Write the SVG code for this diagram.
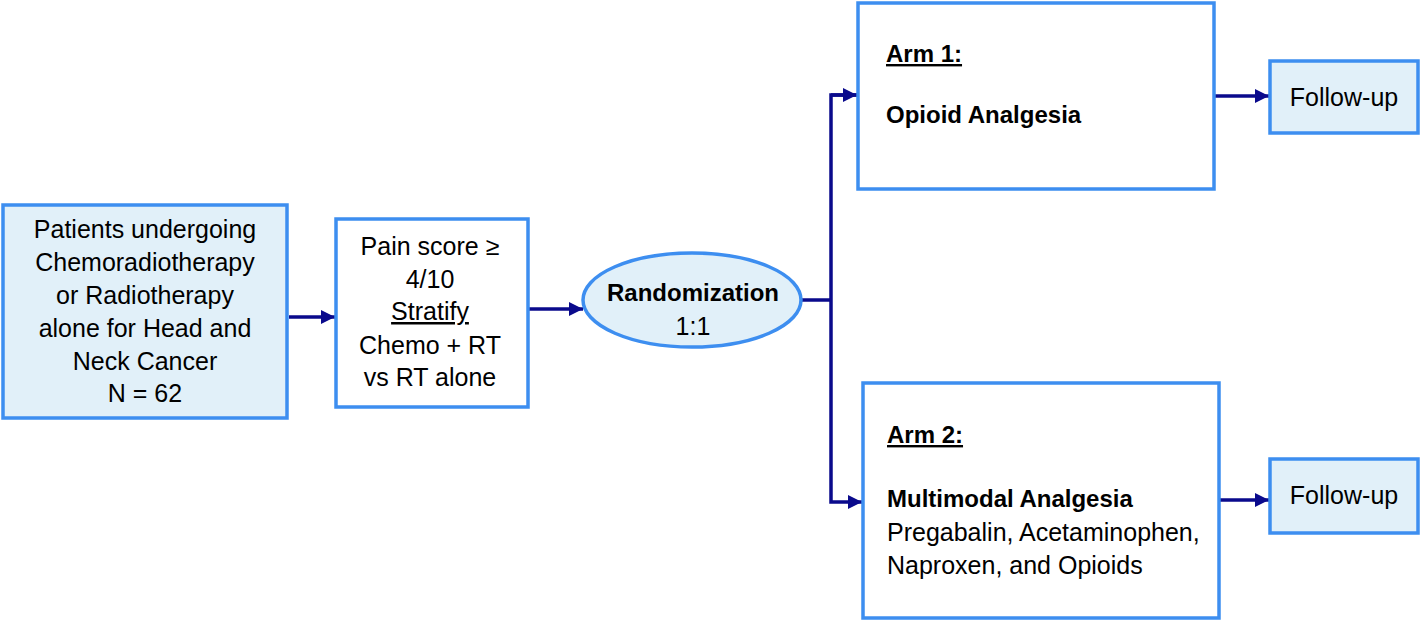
<svg xmlns="http://www.w3.org/2000/svg" width="1421" height="621" viewBox="0 0 1421 621">
<style>
.box{stroke:#3d8ef0;stroke-width:3.5}
.fill{fill:#e1f0f9}
.wht{fill:#ffffff}
text{font-family:"Liberation Sans",Arial,sans-serif;font-size:25px;fill:#000}
.c{text-anchor:middle}
.b{font-weight:bold;font-size:24px}
.u{text-decoration:underline}
.conn{fill:none;stroke:#0a0a8c;stroke-width:3.5}
</style>
<defs>
<marker id="ah" viewBox="0 0 10 10" refX="10" refY="5" markerWidth="4" markerHeight="4" markerUnits="strokeWidth" orient="auto">
<path d="M0,0 L10,5 L0,10 z" fill="#0a0a8c"/>
</marker>
</defs>
<rect width="1421" height="621" fill="#ffffff"/>
<g id="connectors">
<line class="conn" x1="289" y1="317" x2="335" y2="317" marker-end="url(#ah)"/>
<line class="conn" x1="528" y1="309" x2="583" y2="309" marker-end="url(#ah)"/>
<polyline class="conn" points="801,300 831,300"/>
<polyline class="conn" points="857,95 831,95 831,502 862,502" marker-end="url(#ah)"/>
<line class="conn" x1="831" y1="95" x2="857" y2="95" marker-end="url(#ah)"/>
<line class="conn" x1="1214" y1="96" x2="1269" y2="96" marker-end="url(#ah)"/>
<line class="conn" x1="1219" y1="500" x2="1269" y2="500" marker-end="url(#ah)"/>
</g>
<g id="patients">
<rect class="box fill" x="3" y="205" width="284" height="213"/>
<text class="c" x="145" y="238">Patients undergoing</text>
<text class="c" x="145" y="271">Chemoradiotherapy</text>
<text class="c" x="145" y="304">or Radiotherapy</text>
<text class="c" x="145" y="337">alone for Head and</text>
<text class="c" x="145" y="370">Neck Cancer</text>
<text class="c" x="145" y="402">N = 62</text>
</g>
<g id="stratify">
<rect class="box wht" x="336" y="219" width="192" height="188"/>
<text class="c" x="430" y="255">Pain score ≥</text>
<text class="c" x="430" y="288">4/10</text>
<text class="c u" x="430" y="320">Stratify</text>
<text class="c" x="430" y="354">Chemo + RT</text>
<text class="c" x="430" y="386">vs RT alone</text>
</g>
<g id="randomization">
<ellipse class="box fill" cx="692" cy="300" rx="109" ry="47"/>
<text class="c b" x="693" y="301">Randomization</text>
<text class="c" x="693" y="335">1:1</text>
</g>
<g id="arm1">
<rect class="box wht" x="858" y="3" width="356" height="186"/>
<text class="b u" x="886" y="62">Arm 1:</text>
<text class="b" x="886" y="123">Opioid Analgesia</text>
</g>
<g id="arm2">
<rect class="box wht" x="863" y="383" width="356" height="235"/>
<text class="b u" x="887" y="443">Arm 2:</text>
<text class="b" x="887" y="507">Multimodal Analgesia</text>
<text x="887" y="541">Pregabalin, Acetaminophen,</text>
<text x="887" y="574">Naproxen, and Opioids</text>
</g>
<g id="followup1">
<rect class="box fill" x="1270" y="61" width="148" height="72"/>
<text class="c" x="1344" y="106">Follow-up</text>
</g>
<g id="followup2">
<rect class="box fill" x="1270" y="459" width="148" height="74"/>
<text class="c" x="1344" y="504">Follow-up</text>
</g>
</svg>
